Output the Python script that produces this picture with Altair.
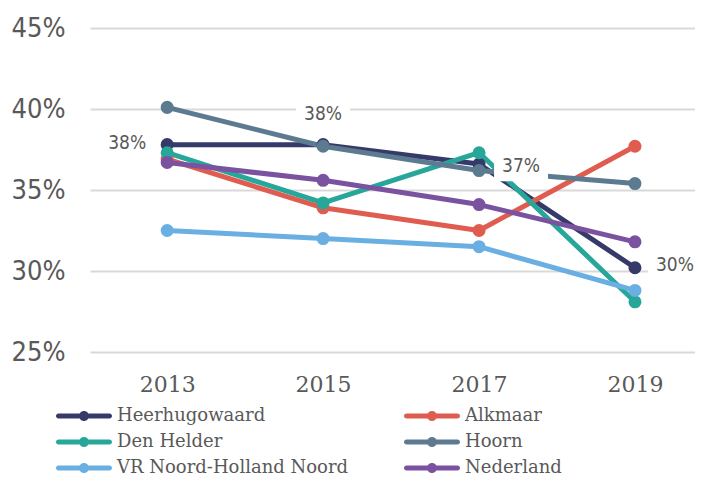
import altair as alt
import pandas as pd

years = [2013, 2015, 2017, 2019]
series = ["Heerhugowaard", "Alkmaar", "Den Helder", "Hoorn",
          "VR Noord-Holland Noord", "Nederland"]
heerhugowaard = [37.8, 37.8, 36.6, 30.2]
alkmaar = [36.9, 33.9, 32.5, 37.7]
den_helder = [37.3, 34.2, 37.3, 28.1]
hoorn = [40.1, 37.7, 36.2, 35.4]
vr_nhn = [32.5, 32.0, 31.5, 28.8]
nederland = [36.7, 35.6, 34.1, 31.8]
colors = ["#363a69", "#e05c50", "#27a69a", "#5c7b90", "#6aafe1", "#7b52a0"]
y_ticks = [25, 30, 35, 40, 45]
label_series = "Heerhugowaard"

values = [heerhugowaard, alkmaar, den_helder, hoorn, vr_nhn, nederland]
rows = []
for s, vals in zip(series, values):
    for yr, v in zip(years, vals):
        rows.append({"series": s, "year": yr, "value": v})
df = pd.DataFrame(rows)

text_color = "#595959"
sym = ("M-2.125,-0.208 L2.125,-0.208 A0.208,0.208 0 0,1 2.125,0.208 "
       "L-2.125,0.208 A0.208,0.208 0 0,1 -2.125,-0.208 Z "
       "M-0.417,0 A0.417,0.417 0 1,1 0.417,0 A0.417,0.417 0 1,1 -0.417,0 Z")
box = "M-1,-0.56 L1,-0.56 L1,0.56 L-1,0.56 Z"

x_enc = alt.X("year:Q",
              scale=alt.Scale(domain=[2012.01, 2019.77], nice=False, zero=False),
              axis=alt.Axis(values=years, format="d", grid=False, domain=False,
                            ticks=False, labelFont="DejaVu Serif", labelFontSize=22,
                            labelColor=text_color, labelPadding=22, title=None))
y_enc = alt.Y("value:Q",
              scale=alt.Scale(domain=[25, 45], nice=False, zero=False),
              axis=alt.Axis(values=y_ticks, labelExpr="datum.value + '%'",
                            domain=False, ticks=False, gridColor="#d9d9d9",
                            gridWidth=2, labelFont="DejaVu Sans Condensed",
                            labelFontSize=27, labelColor=text_color,
                            labelPadding=25, title=None))
color_scale = alt.Scale(domain=series, range=colors)
color_leg = alt.Color(
    "series:N", scale=color_scale, sort=series,
    legend=alt.Legend(
        title=None, orient="none", legendX=-34, legendY=376, columns=2,
        direction="horizontal",
        columnPadding=55, rowPadding=5, symbolType=sym, symbolSize=576,
        symbolOffset=16, symbolStrokeWidth=0, labelOffset=21,
        labelFont="DejaVu Serif", labelFontSize=18, labelColor=text_color,
        labelLimit=400, padding=0, symbolOpacity=1))
color_noleg = alt.Color("series:N", scale=color_scale, sort=series, legend=None)

base = alt.Chart(df)
lines = base.mark_line(strokeWidth=5, strokeJoin="round", strokeCap="round").encode(
    x=x_enc, y=y_enc, color=color_noleg)
points = base.mark_circle(size=170, opacity=1).encode(
    x=x_enc, y=y_enc, color=color_leg)

lab = base.transform_filter(alt.datum.series == label_series).transform_calculate(
    txt="format(datum.value, '.0f') + '%'")

offsets = {2013: (-40, -2), 2015: (0, -31), 2017: (42, 2), 2019: (40, -3)}
label_layers = []
for yr in years:
    dx, dy = offsets[yr]
    sub = lab.transform_filter(alt.datum.year == yr)
    label_layers.append(sub.mark_point(shape=box, size=54 * 54, filled=True,
                                       color="white", opacity=1, strokeWidth=0,
                                       xOffset=dx, yOffset=dy).encode(x=x_enc, y=y_enc))
    label_layers.append(sub.mark_text(font="DejaVu Sans Condensed", fontSize=19,
                                      color=text_color, align="center",
                                      baseline="middle", dx=dx, dy=dy).encode(
        x=x_enc, y=y_enc, text="txt:N"))

chart = alt.layer(lines, points, *label_layers).resolve_legend(
    color="independent"
).properties(
    width=605, height=324,
    autosize=alt.AutoSizeParams(type="none"),
    padding={"left": 82, "top": 20, "right": 0, "bottom": 126},
    background="white",
).configure_view(stroke=None)

chart.save("out.html", embed_options={"renderer": "svg", "actions": False})
